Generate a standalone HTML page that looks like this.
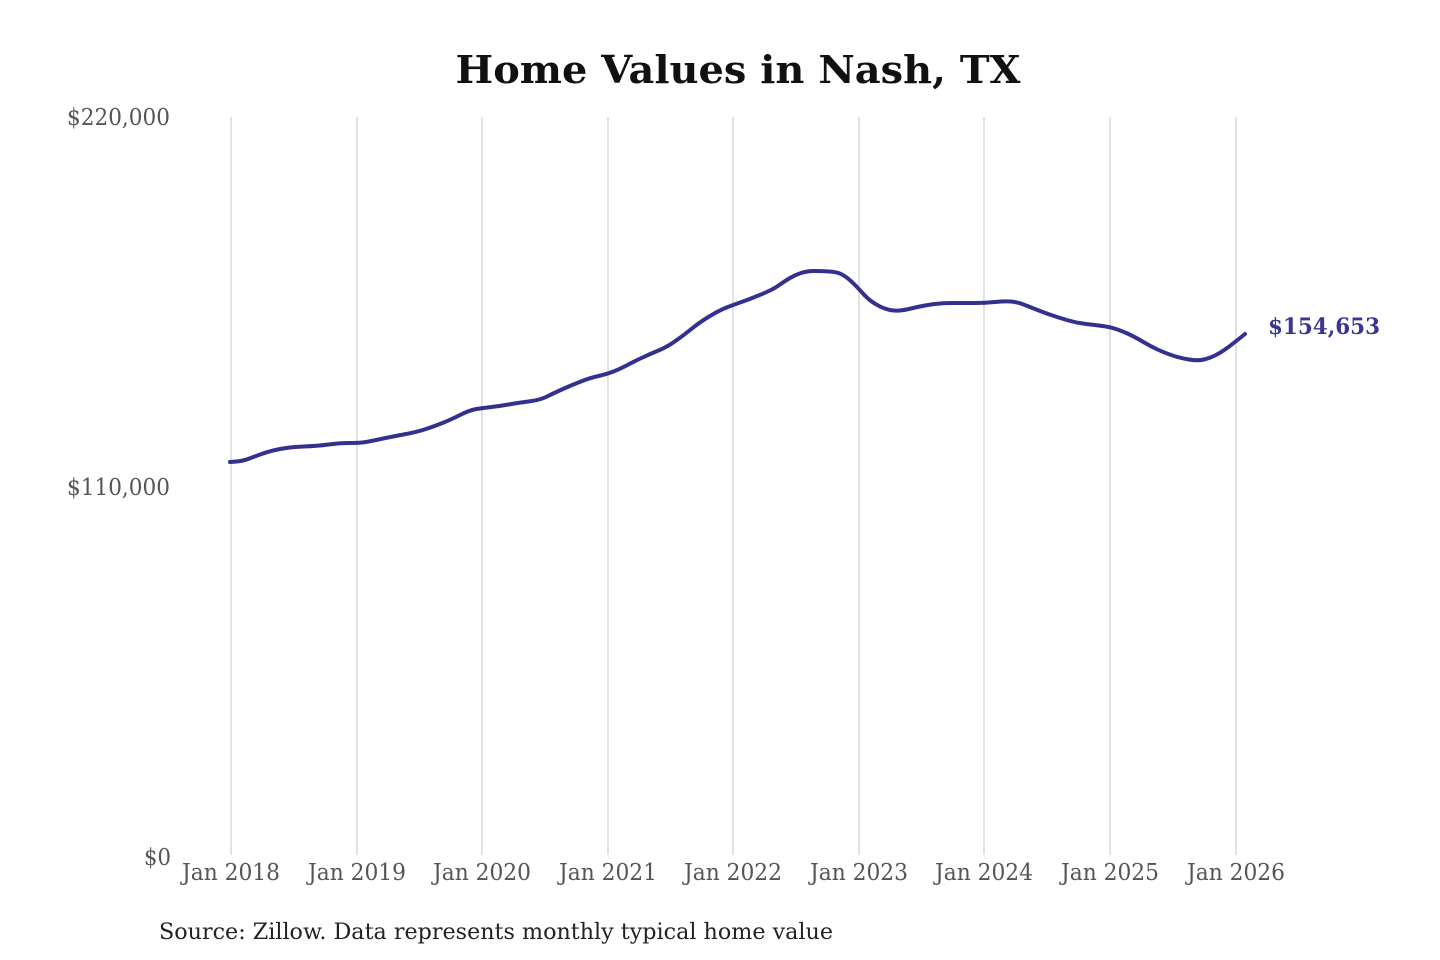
<!DOCTYPE html>
<html><head><meta charset="utf-8"><style>
html,body{margin:0;padding:0;background:#fff;}
svg{display:block;}
</style></head><body>
<svg width="1440" height="960" viewBox="0 0 1440 960" xmlns="http://www.w3.org/2000/svg">
<rect width="1440" height="960" fill="#fff"/>
<text x="738" y="83" text-anchor="middle" font-family="DejaVu Serif, Liberation Serif, serif" font-weight="bold" font-size="38" textLength="565" lengthAdjust="spacingAndGlyphs" fill="#111">Home Values in Nash, TX</text>
<g stroke="#cacaca" stroke-width="1.1">
<line x1="231" y1="117" x2="231" y2="855"/>
<line x1="357" y1="117" x2="357" y2="855"/>
<line x1="482" y1="117" x2="482" y2="855"/>
<line x1="608" y1="117" x2="608" y2="855"/>
<line x1="733" y1="117" x2="733" y2="855"/>
<line x1="859" y1="117" x2="859" y2="855"/>
<line x1="984" y1="117" x2="984" y2="855"/>
<line x1="1110" y1="117" x2="1110" y2="855"/>
<line x1="1236" y1="117" x2="1236" y2="855"/>
</g>
<g font-family="DejaVu Serif, Liberation Serif, serif" font-size="23" fill="#555">
<text x="67" y="125" textLength="103" lengthAdjust="spacingAndGlyphs">$220,000</text>
<text x="67" y="495" textLength="103" lengthAdjust="spacingAndGlyphs">$110,000</text>
<text x="144" y="865" textLength="27" lengthAdjust="spacingAndGlyphs">$0</text>
</g>
<g font-family="DejaVu Serif, Liberation Serif, serif" font-size="23" fill="#555" text-anchor="middle">
<text x="231" y="880" textLength="98" lengthAdjust="spacingAndGlyphs">Jan 2018</text>
<text x="357" y="880" textLength="98" lengthAdjust="spacingAndGlyphs">Jan 2019</text>
<text x="482" y="880" textLength="98" lengthAdjust="spacingAndGlyphs">Jan 2020</text>
<text x="608" y="880" textLength="98" lengthAdjust="spacingAndGlyphs">Jan 2021</text>
<text x="733" y="880" textLength="98" lengthAdjust="spacingAndGlyphs">Jan 2022</text>
<text x="859" y="880" textLength="98" lengthAdjust="spacingAndGlyphs">Jan 2023</text>
<text x="984" y="880" textLength="98" lengthAdjust="spacingAndGlyphs">Jan 2024</text>
<text x="1110" y="880" textLength="98" lengthAdjust="spacingAndGlyphs">Jan 2025</text>
<text x="1236" y="880" textLength="98" lengthAdjust="spacingAndGlyphs">Jan 2026</text>
</g>
<text x="159" y="939" font-family="DejaVu Serif, Liberation Serif, serif" font-size="22" fill="#222" textLength="674" lengthAdjust="spacingAndGlyphs">Source: Zillow. Data represents monthly typical home value</text>
<path fill="none" stroke="#34308f" stroke-width="4" stroke-linejoin="round" stroke-linecap="round" d="M230,462 L236.5,461.5
Q243,461 249.5,458.5 Q256,456 263,453.5 Q270,451 280,449 Q290,447 303.5,446.5 Q317,446 328.5,444.5
Q340,443 348.5,443 Q357,443 362,442.5 Q367,442 378.5,439.5 Q390,437 403.5,434.5 Q417,432 426,429
Q435,426 442.5,423 Q450,420 460,415 Q470,410 476.5,409 Q483,408 491.5,407 Q500,406 508.5,404.5
Q517,403 528.5,401.5 Q540,400 546,397 Q552,394 558.5,391 Q565,388 571,385.5 Q577,383 583.5,380.5
Q590,378 598.5,376 Q607,374 613.5,371.5 Q620,369 626.5,365.5 Q633,362 641.5,358 Q650,354 658.5,350.5
Q667,347 675.5,341 Q684,335 692,328.5 Q700,322 710,316 Q720,310 726.5,307.5 Q733,305 741.5,302
Q750,299 758.5,295.5 Q767,292 771,290 Q775,288 780,284.5 Q785,281 790,278 Q795,275 801,273
Q807,271 814.5,271 Q822,271 829.5,271.5 Q837,272 841,274 Q845,276 848,278.5 Q851,281 854.5,284.5
Q858,288 862.5,293 Q867,298 871,301 Q875,304 880,306.5 Q885,309 890,310 Q895,311 900,310.5
Q905,310 911,308.5 Q917,307 925,305.5 Q933,304 940,303.5 Q947,303 956,303 Q965,303 975,303
Q985,303 995,302 Q1005,301 1011,301.5 Q1017,302 1023.5,304.5 Q1030,307 1037.5,310 Q1045,313 1052.5,315.5
Q1060,318 1068.5,320.5 Q1077,323 1086,324 Q1095,325 1102.5,326 Q1110,327 1116,329 Q1122,331 1128.5,334
Q1135,337 1142.5,341.5 Q1150,346 1157.5,349.5 Q1165,353 1172.5,355.5 Q1180,358 1189,359.5
Q1198,361 1204,359.5 Q1210,358 1215,355.5 Q1220,353 1225,349.5 Q1230,346 1237.5,340 L1245,334"/>
<text x="1268" y="334" font-family="DejaVu Serif, Liberation Serif, serif" font-weight="bold" font-size="22" fill="#3a3592" textLength="112" lengthAdjust="spacingAndGlyphs">$154,653</text>
</svg>
</body></html>
